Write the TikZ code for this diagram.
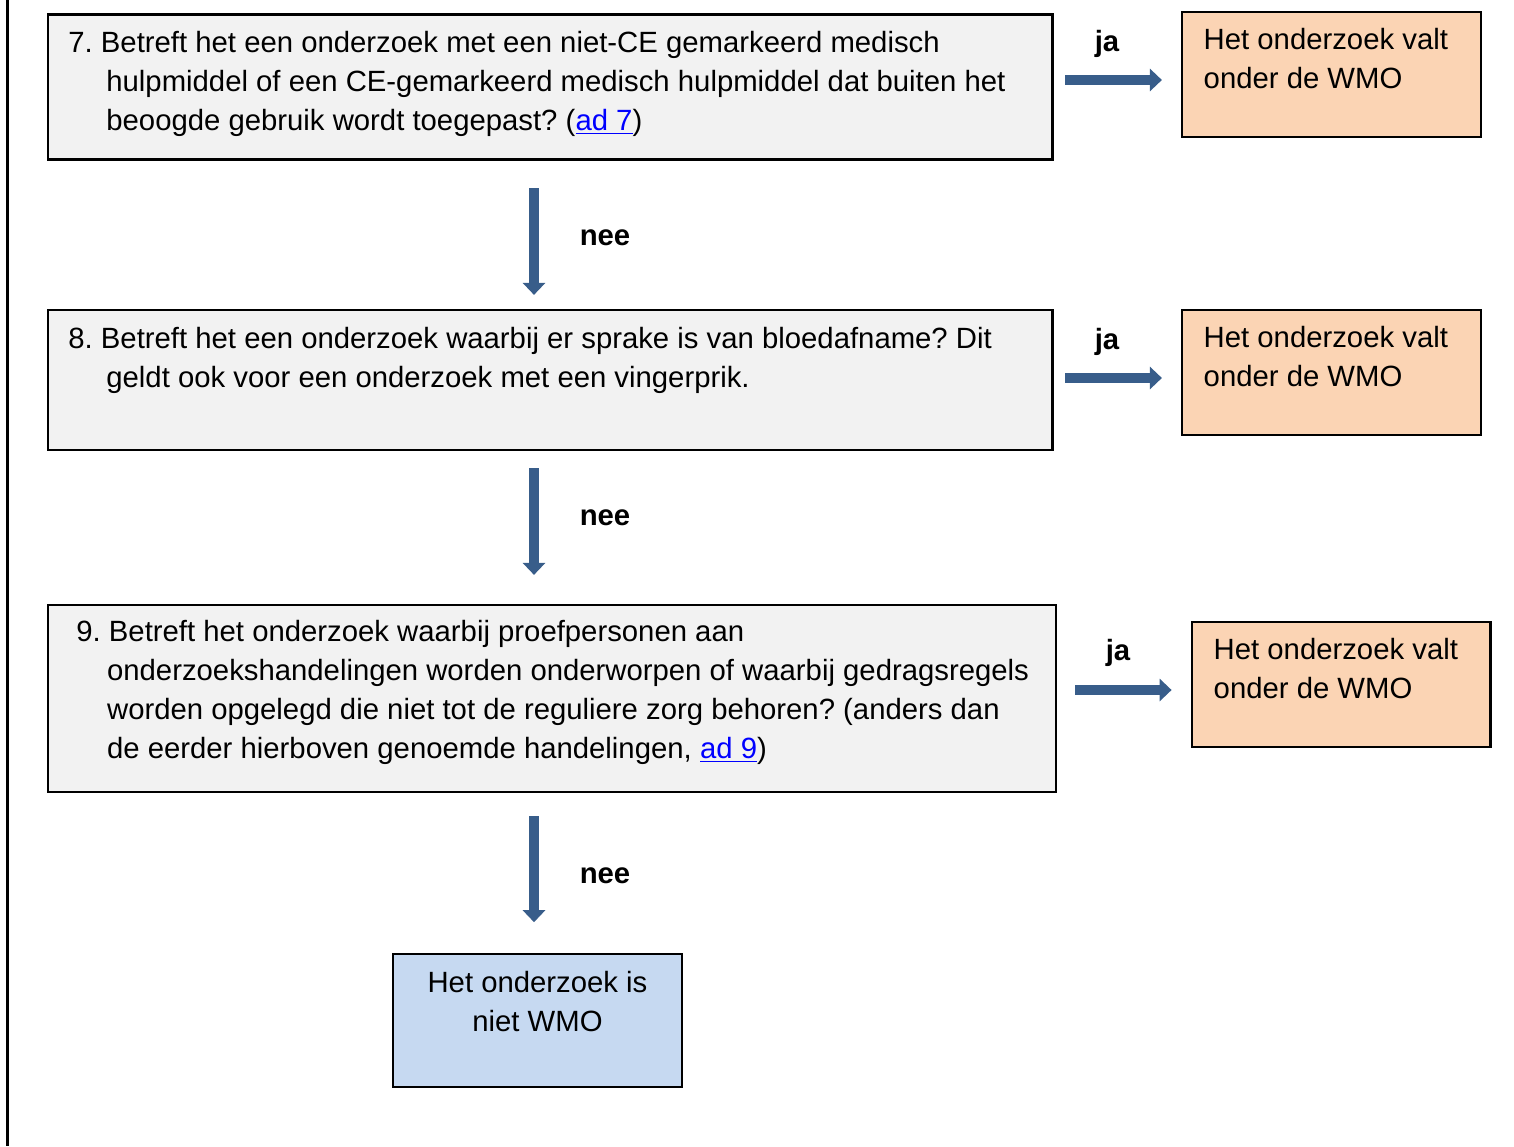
\documentclass[tikz,border=0pt]{standalone}
\usepackage{fontspec}
\setmainfont{Liberation Sans}
\usetikzlibrary{arrows.meta,fit}
\frenchspacing

\definecolor{vraaggrijs}{HTML}{F2F2F2}
\definecolor{wmooranje}{HTML}{FBD4B4}
\definecolor{nietblauw}{HTML}{C6D9F1}
\definecolor{pijlblauw}{HTML}{385D8A}
\definecolor{linkblauw}{HTML}{0000FF}
\newcommand{\adlink}[1]{\textcolor{linkblauw}{\underline{#1}}}

\tikzset{
  vraag/.style={draw, line width=1.1pt, fill=vraaggrijs, inner sep=0pt},
  uitkomst/.style={draw, line width=1.1pt, fill=wmooranje, inner sep=0pt},
  nietwmo/.style={draw, line width=1.1pt, fill=nietblauw, inner sep=0pt},
  tekst/.style={inner sep=0pt, align=left, font=\fontsize{14.65pt}{19.4pt}\selectfont\frenchspacing},
  antwoord/.style={inner sep=0pt, anchor=base, font=\fontsize{14.65pt}{19.4pt}\selectfont\bfseries},
  pijl/.style={color=pijlblauw, line width=5pt, -{Triangle[width=11pt,length=6pt]}},
}

\begin{document}
\begin{tikzpicture}[x=0.5pt, y=-0.5pt]
    \useasboundingbox (0,0) rectangle (1514,1146);
    \draw[line width=1.25pt] (7.5,0) -- (7.5,1146);

    % vraag 7 (base = laatste regel)
    \node (q7) [vraag, fit={(48,14.5) (1052.5,159.5)}] {};
    \node (t7) [tekst, anchor=base west] at (68,130.3) {7. Betreft het een onderzoek met een niet-CE gemarkeerd medisch\\
      \hspace*{19pt}hulpmiddel of een CE-gemarkeerd medisch hulpmiddel dat buiten het\\
      \hspace*{19pt}beoogde gebruik wordt toegepast? (\adlink{ad 7})};
    \node (a7) [uitkomst, fit={(1182.3,12.3) (1480.7,137.3)}] {};
    \node (u7) [tekst, anchor=base west] at (1203.3,88.5) {Het onderzoek valt\\onder de WMO};
    \node (ja7) [antwoord] at (1107,51.7) {ja};
    \draw[pijl, shorten <=5.75pt, shorten >=9.65pt] (q7.east |- 0,80) -- (a7.west |- 0,80);

    % vraag 8
    \node (q8) [vraag, fit={(48,310) (1052.5,450)}] {};
    \node (t8) [tekst, anchor=base west] at (68,387) {8. Betreft het een onderzoek waarbij er sprake is van bloedafname? Dit\\
      \hspace*{19pt}geldt ook voor een onderzoek met een vingerprik.};
    \node (a8) [uitkomst, fit={(1182.3,310.3) (1480.7,435.3)}] {};
    \node (u8) [tekst, anchor=base west] at (1203.3,386.5) {Het onderzoek valt\\onder de WMO};
    \node (ja8) [antwoord] at (1107,349.7) {ja};
    \draw[pijl, shorten <=5.75pt, shorten >=9.65pt] (q8.east |- 0,378) -- (a8.west |- 0,378);

    \node (nee7) [antwoord] at (605,245) {nee};
    \draw[pijl, shorten <=13.75pt, shorten >=7pt] (534,0 |- q7.south) -- (534,0 |- q8.north);

    % vraag 9
    \node (q9) [vraag, fit={(48,605) (1056,792)}] {};
    \node (t9) [tekst, anchor=base west] at (76,758) {9. Betreft het onderzoek waarbij proefpersonen aan\\
      \hspace*{15.35pt}onderzoekshandelingen worden onderworpen of waarbij gedragsregels\\
      \hspace*{15.35pt}worden opgelegd die niet tot de reguliere zorg behoren? (anders dan\\
      \hspace*{15.35pt}de eerder hierboven genoemde handelingen, \adlink{ad 9})};
    \node (a9) [uitkomst, fit={(1192.3,622.3) (1490.5,747.3)}] {};
    \node (u9) [tekst, anchor=base west] at (1213.3,698.5) {Het onderzoek valt\\onder de WMO};
    \node (ja9) [antwoord] at (1118,660) {ja};
    \draw[pijl, shorten <=9pt, shorten >=9.8pt] (q9.east |- 0,690) -- (a9.west |- 0,690);

    \node (nee8) [antwoord] at (605,525) {nee};
    \draw[pijl, shorten <=8.5pt, shorten >=14.5pt] (534,0 |- q8.south) -- (534,0 |- q9.north);

    % einde
    \node (eind) [nietwmo, fit={(392.7,954) (681.7,1086.7)}] {};
    \node (te) [tekst, align=center, anchor=base] at (537.5,1031.7) {Het onderzoek is\\niet WMO};

    \node (nee9) [antwoord] at (605,883.3) {nee};
    \draw[pijl, shorten <=11.5pt, shorten >=15.35pt] (534,0 |- q9.south) -- (534,0 |- eind.north);
\end{tikzpicture}
\end{document}
